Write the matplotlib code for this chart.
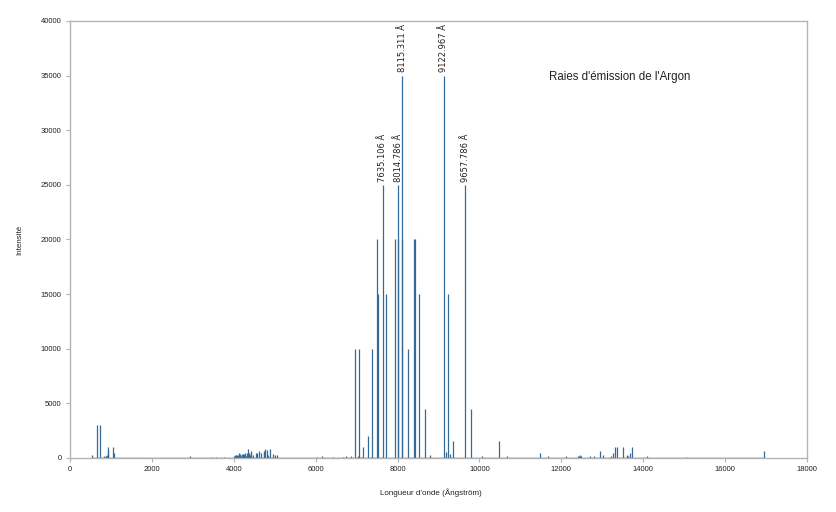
import numpy as np
import matplotlib
matplotlib.use("Agg")
import matplotlib.pyplot as plt

# longueurs d'onde (Å) et intensités relatives des raies de l'argon
uv_wl = [543.0, 666.0, 723.4, 842.0, 870.0, 880.0, 900.0, 919.8, 932.1, 1048.2, 1066.7]
uv_int = [300, 3000, 3000, 200, 150, 200, 250, 1000, 700, 1000, 500]

blue_wl = [2942.9, 3476.7, 3559.5, 3770.4,
           4013.9, 4033.8, 4042.9, 4072.0, 4103.9, 4131.7, 4158.6, 4164.2,
           4181.9, 4190.7, 4198.3, 4200.7, 4228.2, 4237.2, 4259.4, 4266.3,
           4272.2, 4277.5, 4300.1, 4331.2, 4348.1, 4370.8, 4379.7, 4401.0,
           4426.0, 4430.2, 4481.8, 4545.1, 4579.4, 4609.6, 4657.9, 4726.9,
           4735.9, 4764.9, 4806.0, 4847.8, 4879.9, 4965.1, 5009.3, 5062.0]
blue_int = [150, 100, 100, 120,
            200, 300, 300, 300, 300, 500, 400, 200,
            200, 300, 300, 400, 400, 300, 400, 200,
            200, 500, 200, 500, 800, 500, 400, 300,
            600, 500, 300, 500, 500, 600, 500, 600,
            500, 800, 700, 300, 800, 400, 300, 300]

red_wl = [6032.1, 6145.4, 6416.3, 6677.3, 6752.8, 6871.3,
          6965.4, 7030.3, 7067.2, 7107.5, 7147.0, 7272.9, 7353.3, 7383.9,
          7503.9, 7514.7, 7635.1, 7723.8, 7948.2, 8006.2, 8014.8, 8103.7,
          8115.3, 8264.5, 8408.2, 8424.6, 8521.4, 8667.9, 8799.1, 9122.9,
          9194.6, 9224.5, 9291.5, 9354.2, 9657.8, 9784.5, 10052.1]
red_int = [100, 150, 100, 100, 150, 150,
           10000, 150, 10000, 100, 1000, 2000, 100, 10000,
           20000, 15000, 25000, 15000, 20000, 20000, 25000, 20000,
           35000, 10000, 20000, 20000, 15000, 4500, 300, 35000,
           550, 15000, 400, 1600, 25000, 4500, 200]

ir_wl = [10470.1, 10673.6, 11488.1, 11668.7, 12112.3, 12402.8, 12439.3,
         12456.1, 12487.7, 12702.3, 12802.7, 12956.7, 13008.3, 13214.7,
         13272.6, 13313.2, 13367.1, 13504.0, 13599.3, 13622.7, 13678.6,
         13718.6, 14093.6, 15046.5, 16940.6]
ir_int = [1600, 200, 500, 200, 200, 200, 200,
          300, 200, 200, 200, 600, 300, 200,
          500, 1000, 1000, 1000, 300, 200, 500,
          1000, 200, 100, 600]

labels_wl = [7635.106, 8014.786, 8115.311, 9122.967, 9657.786]
labels_int = [25000, 25000, 35000, 35000, 25000]

wl = np.array(uv_wl + blue_wl + red_wl + ir_wl)
inten = np.array(uv_int + blue_int + red_int + ir_int)

col = '#336a99'
grey = '#b3b3b3'

fig = plt.figure(figsize=(8.36, 5.12), dpi=100)
ax = fig.add_axes([0.0837, 0.1055, 0.8816, 0.8535])

ax.plot([wl.min(), wl.max()], [0, 0], color=col, linewidth=1, zorder=3)
ax.vlines(wl, 0, inten, colors=col, linewidth=0.9, zorder=2)

for w, i in zip(labels_wl, labels_int):
    ax.text(w, i + 300, f"{w:.3f} Å", rotation=90, ha='center', va='bottom',
            fontsize=6, family='DejaVu Sans', color='#222222')

ax.text(0.746, 0.872, "Raies d'émission de l'Argon", transform=ax.transAxes,
        ha='center', va='center', fontsize=8.3, family='Liberation Sans',
        color='#222222')

ax.set_xlim(0, 18000)
ax.set_ylim(0, 40000)
ax.set_xticks(np.arange(0, 18001, 2000))
ax.set_yticks(np.arange(0, 40001, 5000))
for s in ax.spines.values():
    s.set_color(grey)
    s.set_linewidth(1)
ax.tick_params(axis='both', length=3, width=0.8, color=grey, labelsize=5.5,
               labelcolor='#222222', pad=3)
for t in ax.get_xticklabels() + ax.get_yticklabels():
    t.set_family('Liberation Sans')

fig.text(0.515, 0.037, "Longueur d'onde (Ångström)", ha='center', va='center',
         fontsize=5.8, family='Liberation Sans', color='#222222')
fig.text(0.024, 0.531, "Intensité", rotation=90, ha='center', va='center',
         fontsize=5.8, family='Liberation Sans', color='#222222')

fig.savefig('out.png', dpi=100)
